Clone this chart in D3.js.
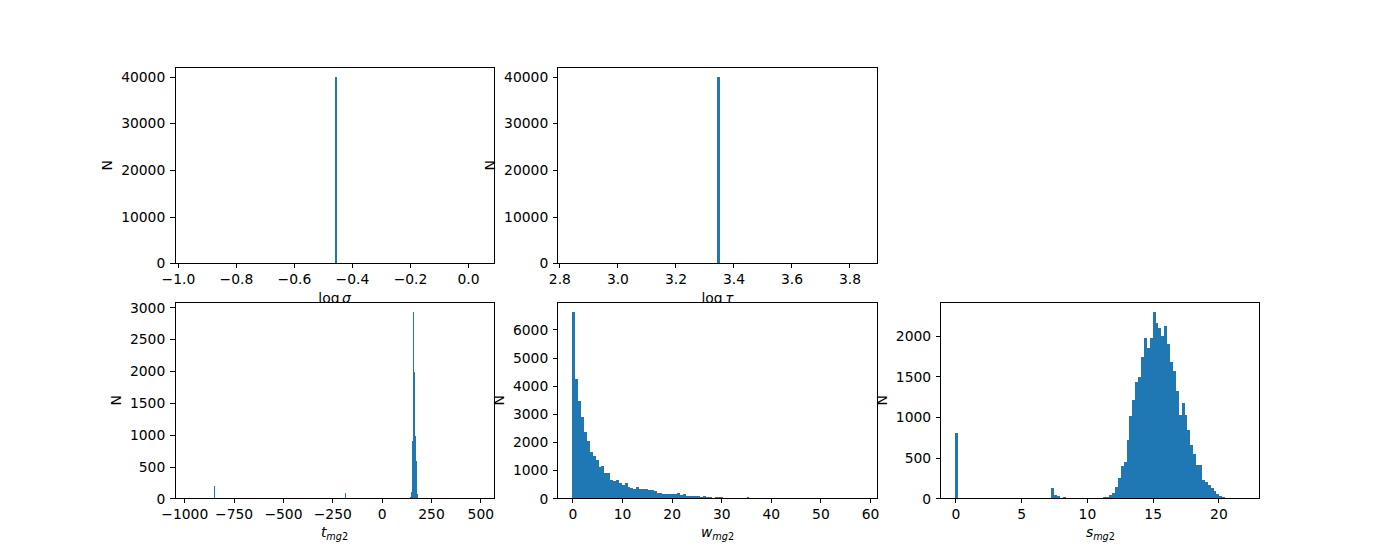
<!DOCTYPE html>
<html><head><meta charset="utf-8">
<script src="https://cdn.jsdelivr.net/npm/d3@7"></script>
<style>
body{margin:0;background:#fff}
svg{display:block}
text{font-family:"DejaVu Sans",sans-serif;fill:#000}
</style>
</head><body>
<svg id="chart" width="1400" height="560"></svg>
<script>
// ---------------- data ----------------
// log sigma: all samples share one value (numpy uses range [v-0.5, v+0.5], 100 bins)
const sigmaValue = -0.46;
const sigmaCount = 40000;
// log tau
const tauValue = 3.345;
const tauCount = 40000;
// t_mg2: 300 bins over tRange, only non-empty bins listed
const tRange = [-973.5, 496.5];
const tBinTotal = 300;
const tBinStart = [-851.0, -184.6, 143.7, 148.6, 153.5, 158.4, 163.3, 168.2, 173.1, 178.0];
const tCounts = [195, 85, 20, 100, 900, 2930, 1985, 980, 580, 75];
// w_mg2: 100 bins over wRange
const wRange = [0, 58.5];
const wCounts = [
  6630, 4235, 3464, 2883, 2349, 2028, 1637, 1495, 1352, 1127,
  1150, 890, 890, 640, 605, 640, 546, 463, 534, 415,
  380, 320, 390, 320, 320, 320, 285, 285, 273, 190,
  190, 154, 154, 154, 154, 154, 190, 119, 154, 95,
  83, 83, 83, 83, 47, 83, 47, 47, 10, 47,
  47, 40, 8, 6, 4, 5, 3, 2, 3, 2,
  47, 3, 1, 2, 0, 1, 1, 0, 0, 1,
  0, 0, 1, 0, 0, 0, 0, 1, 0, 0,
  0, 0, 0, 0, 0, 1, 0, 0, 0, 0,
  0, 0, 0, 0, 0, 0, 0, 0, 0, 1
];
// s_mg2: 100 bins over sRange
const sRange = [0, 22.06];
const sCounts = [
  805, 0, 0, 0, 0, 0, 0, 0, 0, 0,
  0, 0, 0, 0, 0, 0, 0, 0, 0, 0,
  0, 0, 0, 0, 0, 0, 0, 0, 0, 0,
  0, 0, 0, 127, 37, 25, 0, 12, 0, 0,
  0, 0, 0, 0, 0, 0, 0, 0, 0, 2,
  10, 12, 15, 45, 70, 144, 245, 396, 446, 715,
  1010, 1207, 1429, 1491, 1735, 1970, 1846, 1970, 2294, 2156,
  2098, 1998, 2119, 1897, 1678, 1562, 1318, 1023, 1172, 1023,
  838, 653, 542, 407, 407, 232, 205, 170, 127, 92,
  57, 25, 22, 8, 6, 0, 0, 0, 0, 1
];
// tick labels
const sigmaXTicks = [-1.0, -0.8, -0.6, -0.4, -0.2, 0.0];
const tauXTicks = [2.8, 3.0, 3.2, 3.4, 3.6, 3.8];
const bigYTicks = [0, 10000, 20000, 30000, 40000];
const tXTicks = [-1000, -750, -500, -250, 0, 250, 500];
const tYTicks = [0, 500, 1000, 1500, 2000, 2500, 3000];
const wXTicks = [0, 10, 20, 30, 40, 50, 60];
const wYTicks = [0, 1000, 2000, 3000, 4000, 5000, 6000];
const sXTicks = [0, 5, 10, 15, 20];
const sYTicks = [0, 500, 1000, 1500, 2000];
const yLabelText = "N";

// ---------------- layout (matplotlib-like subplot grid) ----------------
const FW = 1400, FH = 560;
const PT = 100 / 72;
const FS = 10 * PT;               // 10pt font
const TICK = 3.5 * PT, PAD = 3.5 * PT, LABELPAD = 4 * PT;
const gridW = FW * (0.9 - 0.125), colW = gridW / (3 + 2 * 0.2), colGap = 0.2 * colW;
const gridH = FH * (0.88 - 0.11), rowH = gridH / (2 + 0.2), rowGap = 0.2 * rowH;
const gx0 = FW * 0.125, gy0 = FH * (1 - 0.88);
const cell = (r, c) => ({x: gx0 + c * (colW + colGap), y: gy0 + r * (rowH + rowGap), w: colW, h: rowH});

const svg = d3.select("#chart");
const minus = s => s.replace(/-/g, "\u2212");

function histBars(range, counts) {
  const bw = (range[1] - range[0]) / counts.length;
  return counts.map((n, i) => ({x0: range[0] + i * bw, x1: range[0] + (i + 1) * bw, n}));
}
function margins(range) {
  const d = range[1] - range[0];
  return [range[0] - 0.05 * d, range[1] + 0.05 * d];
}

let clipId = 0;
function panel(opt) {
  const {box, xDomain, yMax, xTicks, yTicks, xFmt, bars, xLabel, xLabelDy} = opt;
  const g = svg.append("g").attr("transform", `translate(${box.x},${box.y})`);
  g.append("rect").attr("width", box.w).attr("height", box.h).attr("fill", "#fff");
  const x = d3.scaleLinear().domain(xDomain).range([0, box.w]);
  const y = d3.scaleLinear().domain([0, yMax * 1.05]).range([box.h, 0]);
  const id = "clip" + (clipId++);
  g.append("clipPath").attr("id", id).append("rect").attr("width", box.w).attr("height", box.h);
  g.append("g").attr("clip-path", `url(#${id})`)
    .selectAll("rect").data(bars.filter(b => b.n > 0)).join("rect")
    .attr("x", d => x(d.x0))
    .attr("width", d => Math.max(0.9, x(d.x1) - x(d.x0)))
    .attr("y", d => y(d.n))
    .attr("height", d => y(0) - y(d.n))
    .attr("fill", "#1f77b4")
    .attr("shape-rendering", "crispEdges");
  // axes
  const xa = g.append("g").attr("transform", `translate(0,${box.h})`)
    .call(d3.axisBottom(x).tickValues(xTicks).tickFormat(d => minus(xFmt(d)))
      .tickSize(TICK).tickPadding(PAD).tickSizeOuter(0));
  const ya = g.append("g")
    .call(d3.axisLeft(y).tickValues(yTicks).tickFormat(d3.format("d"))
      .tickSize(TICK).tickPadding(PAD).tickSizeOuter(0));
  [xa, ya].forEach(a => {
    a.select(".domain").remove();
    a.selectAll("line").attr("stroke", "#000").attr("stroke-width", 1).attr("shape-rendering", "crispEdges");
    a.selectAll("text").attr("font-size", FS).attr("font-family", "DejaVu Sans").attr("fill", "#000");
  });
  xa.selectAll("text").attr("dy", "0.79em");
  ya.selectAll("text").attr("dy", "0.34em");
  // frame
  g.append("rect").attr("width", box.w).attr("height", box.h)
    .attr("fill", "none").attr("stroke", "#000").attr("stroke-width", 1).attr("shape-rendering", "crispEdges");
  // y label
  let minX = 0;
  ya.selectAll("text").each(function () { const b = this.getBBox(); const tx = -TICK - PAD - b.width; if (tx < minX) minX = tx; });
  const lx = minX - LABELPAD - 0.236 * FS;
  g.append("text").attr("transform", `translate(${lx},${box.h / 2}) rotate(-90)`)
    .attr("text-anchor", "middle").attr("font-size", FS).text(yLabelText);
  // x label
  const t = g.append("text").attr("x", box.w / 2).attr("y", box.h + xLabelDy)
    .attr("text-anchor", "middle").attr("font-size", FS);
  xLabel(t);
}

const logLabel = sym => t => {
  t.append("tspan").text("log");
  t.append("tspan").attr("dx", 2.5).attr("font-style", "italic").text(sym);
};
const subLabel = sym => t => {
  t.append("tspan").attr("font-style", "italic").text(sym);
  t.append("tspan").attr("font-style", "italic").attr("font-size", FS * 0.7).attr("dy", 3.4).text("mg");
  t.append("tspan").attr("font-size", FS * 0.7).text("2");
};

// top row
panel({
  box: cell(0, 0), xDomain: [sigmaValue - 0.55, sigmaValue + 0.55], yMax: sigmaCount,
  xTicks: sigmaXTicks, yTicks: bigYTicks, xFmt: d3.format(".1f"),
  bars: [{x0: sigmaValue, x1: sigmaValue + 1 / 100, n: sigmaCount}],
  xLabel: logLabel("\u03c3"), xLabelDy: 40
});
panel({
  box: cell(0, 1), xDomain: [tauValue - 0.55, tauValue + 0.55], yMax: tauCount,
  xTicks: tauXTicks, yTicks: bigYTicks, xFmt: d3.format(".1f"),
  bars: [{x0: tauValue, x1: tauValue + 1 / 100, n: tauCount}],
  xLabel: logLabel("\u03c4"), xLabelDy: 40
});
// bottom row
const tBW = (tRange[1] - tRange[0]) / tBinTotal;
panel({
  box: cell(1, 0), xDomain: margins(tRange), yMax: d3.max(tCounts),
  xTicks: tXTicks, yTicks: tYTicks, xFmt: d3.format("d"),
  bars: tBinStart.map((s, i) => ({x0: s, x1: s + tBW, n: tCounts[i]})),
  xLabel: subLabel("t"), xLabelDy: 38.5
});
panel({
  box: cell(1, 1), xDomain: margins(wRange), yMax: d3.max(wCounts),
  xTicks: wXTicks, yTicks: wYTicks, xFmt: d3.format("d"),
  bars: histBars(wRange, wCounts),
  xLabel: subLabel("w"), xLabelDy: 38.5
});
panel({
  box: cell(1, 2), xDomain: margins(sRange), yMax: d3.max(sCounts),
  xTicks: sXTicks, yTicks: sYTicks, xFmt: d3.format("d"),
  bars: histBars(sRange, sCounts),
  xLabel: subLabel("s"), xLabelDy: 38.5
});
</script>
</body></html>
